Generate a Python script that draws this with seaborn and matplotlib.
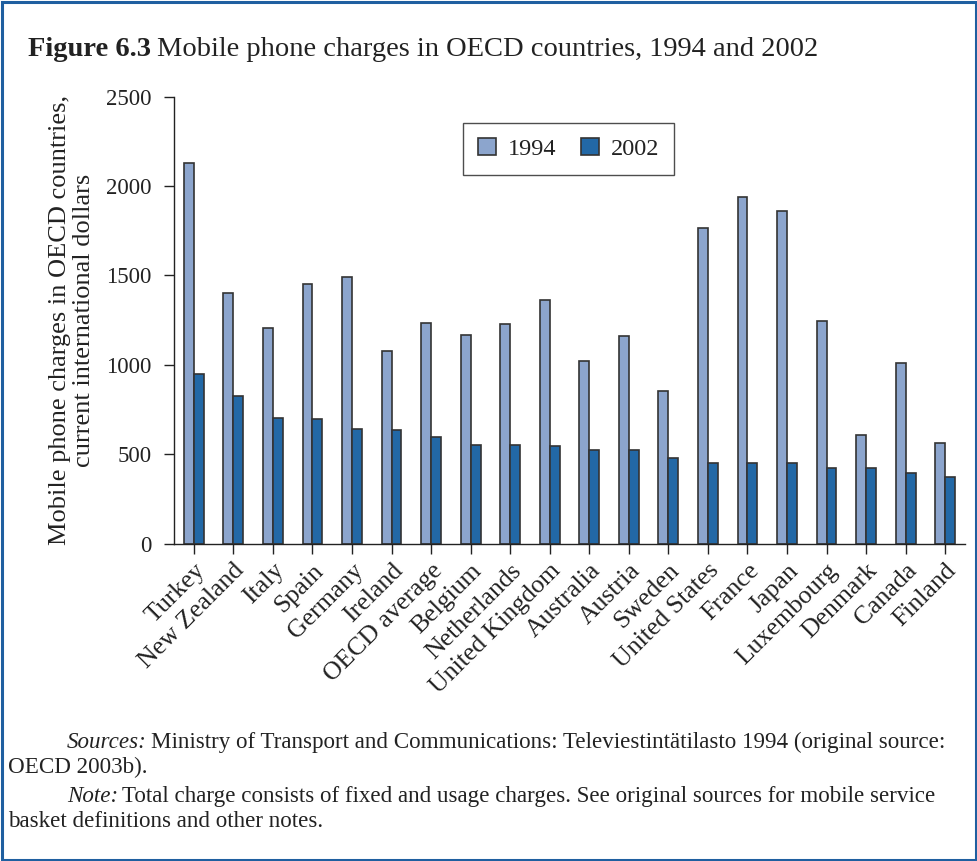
import matplotlib
matplotlib.use("Agg")
import matplotlib.pyplot as plt
import seaborn as sns
import pandas as pd
from matplotlib.patches import Rectangle

countries = ["Turkey", "New Zealand", "Italy", "Spain", "Germany", "Ireland",
             "OECD average", "Belgium", "Netherlands", "United Kingdom",
             "Australia", "Austria", "Sweden", "United States", "France",
             "Japan", "Luxembourg", "Denmark", "Canada", "Finland"]
v1994 = [2131, 1400, 1204, 1450, 1493, 1078, 1233, 1168, 1230, 1362,
         1019, 1162, 855, 1767, 1939, 1859, 1243, 605, 1011, 563]
v2002 = [948, 827, 700, 698, 642, 633, 597, 552, 550, 543,
         524, 522, 478, 450, 448, 448, 422, 424, 392, 373]
years = ["1994", "2002"]
yticks = [0, 500, 1000, 1500, 2000, 2500]

df = pd.DataFrame({
    "country": countries * 2,
    "year": [years[0]] * len(countries) + [years[1]] * len(countries),
    "value": v1994 + v2002,
})

sns.set_theme(style="white")
plt.rcParams["font.family"] = ["Liberation Serif", "DejaVu Serif"]

W, H = 977, 861
fig = plt.figure(figsize=(W / 100, H / 100), dpi=100)
ax = fig.add_axes([174 / W, 1 - 543.5 / H, (965 - 174) / W, (543.5 - 96.7) / H])

light = "#8ca5cd"
dark = "#2268a6"
sns.barplot(data=df, x="country", y="value", hue="year", palette=[light, dark],
            width=0.5, edgecolor="#333333", linewidth=1.2, ax=ax, saturation=1)

ax.set_xlim(-0.5, 19.5)
ax.set_ylim(0, 2500)
ax.set_yticks(yticks)
ax.set_yticklabels([str(t) for t in yticks], fontsize=16.5)
ax.set_xticks(range(len(countries)))
ax.set_xticklabels(countries, rotation=45, ha="right", rotation_mode="anchor", fontsize=18.5)
ax.tick_params(axis="both", direction="out", length=7.5, width=1, color="#222222",
               labelcolor="#222222", bottom=True, left=True)
ax.tick_params(axis="x", pad=4)
ax.tick_params(axis="y", pad=8.5)
for s in ["top", "right"]:
    ax.spines[s].set_visible(False)
for s in ["left", "bottom"]:
    ax.spines[s].set_color("#222222")
    ax.spines[s].set_linewidth(1)
ax.set_xlabel("")
ax.set_ylabel("Mobile phone charges in OECD countries,\ncurrent international dollars",
              fontsize=19, color="#222222", labelpad=8, linespacing=1.15)

leg = ax.legend(loc="upper left", bbox_to_anchor=(463 / W, 1 - 123 / H),
                bbox_transform=fig.transFigure, ncol=2, frameon=True, fancybox=False,
                fontsize=17.5, handlelength=0.75, handleheight=0.75, columnspacing=1.0,
                borderpad=0.6, handletextpad=0.5, borderaxespad=0)
leg.get_frame().set_edgecolor("#222222")
leg.get_frame().set_linewidth(1)
for t in leg.get_texts():
    t.set_color("#222222")

# Title
fig.canvas.draw()
r = fig.canvas.get_renderer()
t1 = fig.text(28 / W, 1 - 56 / H, "Figure 6.3", fontsize=20.5, fontweight="bold",
              color="#222222", va="baseline")
bb = t1.get_window_extent(renderer=r)
fig.text((bb.x1 + 6) / W, 1 - 56 / H, "Mobile phone charges in OECD countries, 1994 and 2002",
         fontsize=20.5, color="#222222", va="baseline")

# Footnotes
fs = 16.6
def two_part(x, y, italic, rest):
    a = fig.text(x / W, 1 - y / H, italic, fontsize=fs, style="italic", color="#222222", va="baseline")
    b = a.get_window_extent(renderer=r)
    fig.text((b.x1 + 4) / W, 1 - y / H, rest, fontsize=fs, color="#222222", va="baseline")

two_part(67, 748, "Sources:", "Ministry of Transport and Communications: Televiestintätilasto 1994 (original source:")
fig.text(8 / W, 1 - 773 / H, "OECD 2003b).", fontsize=fs, color="#222222", va="baseline")
two_part(67, 802, "Note:", "Total charge consists of fixed and usage charges. See original sources for mobile service")
fig.text(8 / W, 1 - 827 / H, "basket definitions and other notes.", fontsize=fs, color="#222222", va="baseline")

# Border
fig.patches.append(Rectangle((1.5 / W, 1.5 / H), (W - 3) / W, (H - 3) / H, transform=fig.transFigure,
                             fill=False, edgecolor="#1f5fa0", linewidth=2.2))

fig.savefig("out.png", dpi=100)
